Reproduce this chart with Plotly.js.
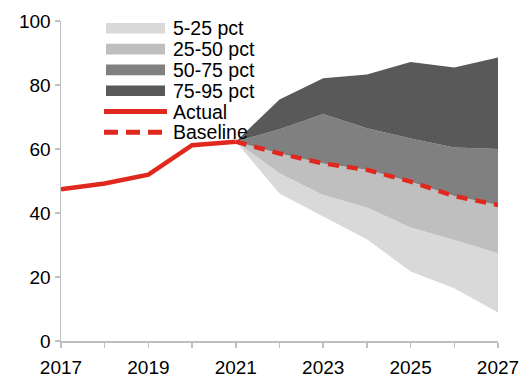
<!DOCTYPE html>
<html>
<head>
<meta charset="utf-8">
<script src="https://cdn.plot.ly/plotly-3.0.1.min.js"></script>
<style>html,body{margin:0;padding:0;background:#fff;}#chart{width:525px;height:377px;}</style>
</head>
<body>
<div id="chart"></div>
<script>
const actualYears = [2017, 2018, 2019, 2020, 2021];
const actualValues = [47.4, 49.2, 52.0, 61.2, 62.3];

const fcYears = [2021, 2022, 2023, 2024, 2025, 2026, 2027];
const p5  = [62.3, 46.1, 38.9, 31.8, 21.7, 16.5, 8.9];
const p25 = [62.3, 52.4, 45.6, 41.7, 35.5, 31.6, 27.4];
const p50 = [62.3, 58.6, 55.5, 53.5, 49.8, 45.3, 42.5];
const p75 = [62.3, 66.2, 70.9, 66.5, 63.3, 60.5, 60.0];
const p95 = [62.3, 75.5, 82.1, 83.3, 87.2, 85.5, 88.6];
const baseline = [62.3, 58.6, 55.5, 53.5, 49.8, 45.3, 42.5];

const bandNames = ['5-25 pct', '25-50 pct', '50-75 pct', '75-95 pct'];
const bandColors = ['#d9d9d9', '#bfbfbf', '#808080', '#595959'];
const lineNames = ['Actual', 'Baseline'];
const xTickVals = [2017, 2019, 2021, 2023, 2025, 2027];
const xTickText = ['2017', '2019', '2021', '2023', '2025', '2027'];
const yTickVals = [0, 20, 40, 60, 80, 100];

const red = '#e0281e';
const W = 525, H = 377;
const M = {l: 61, r: 27, t: 21, b: 36};
const tickFont = {family: 'Liberation Sans, Arial, sans-serif', size: 19, color: '#000'};
const legFont = {family: 'Liberation Sans, Arial, sans-serif', size: 19.5, color: '#000'};
const dashPattern = '11px,8px';

const bounds = [p5, p25, p50, p75, p95];
const traces = [{
  x: fcYears, y: p5, type: 'scatter', mode: 'lines',
  line: {width: 0, color: 'rgba(0,0,0,0)'}, showlegend: false, hoverinfo: 'skip'
}];
for (let i = 0; i < 4; i++) {
  traces.push({
    x: fcYears, y: bounds[i + 1], type: 'scatter', mode: 'lines',
    name: bandNames[i], fill: 'tonexty', fillcolor: bandColors[i],
    line: {width: 0, color: bandColors[i]}, showlegend: false
  });
}
traces.push({
  x: actualYears, y: actualValues, type: 'scatter', mode: 'lines', name: lineNames[0],
  line: {color: red, width: 4.5}, showlegend: false
});
traces.push({
  x: fcYears, y: baseline, type: 'scatter', mode: 'lines', name: lineNames[1],
  line: {color: red, width: 4.5, dash: dashPattern}, showlegend: false
});

// manual legend (pixel layout -> paper coords)
const pw = W - M.l - M.r, ph = H - M.t - M.b;
const px = v => (v - M.l) / pw;
const py = v => (H - M.b - v) / ph;
const shapes = [], annotations = [];
const legNames = bandNames.concat(lineNames);
legNames.forEach((name, i) => {
  const cy = 28.3 + i * 20.8;
  if (i < 4) {
    shapes.push({type: 'rect', xref: 'paper', yref: 'paper',
      x0: px(106), x1: px(165), y0: py(cy - 5.3), y1: py(cy + 5.3),
      fillcolor: bandColors[i], line: {width: 0}});
  } else {
    shapes.push({type: 'line', xref: 'paper', yref: 'paper',
      x0: px(104), x1: px(167), y0: py(cy), y1: py(cy),
      line: {color: red, width: 5, dash: i === 5 ? '14px,8px' : 'solid'}});
  }
  annotations.push({xref: 'paper', yref: 'paper', x: px(172), y: py(cy),
    xanchor: 'left', yanchor: 'middle', showarrow: false, text: name, font: legFont,
    borderpad: 0});
});

const layout = {
  width: W, height: H, margin: M,
  paper_bgcolor: '#fff', plot_bgcolor: '#fff',
  font: tickFont, showlegend: false,
  shapes: shapes, annotations: annotations,
  xaxis: {
    range: [2017, 2027], tickvals: xTickVals, ticktext: xTickText,
    showgrid: false, zeroline: false, showline: true, linecolor: '#bfbfbf', linewidth: 1.5,
    ticks: 'outside', ticklen: 5, tickcolor: '#bfbfbf', tickwidth: 1.5,
    minor: {dtick: 1, ticks: 'outside', ticklen: 5, tickcolor: '#bfbfbf', tickwidth: 1.5, showgrid: false},
    tickfont: tickFont, ticklabelstandoff: 4, fixedrange: true
  },
  yaxis: {
    range: [0, 100], tickvals: yTickVals,
    showgrid: false, zeroline: false, showline: true, linecolor: '#bfbfbf', linewidth: 1.5,
    ticks: 'outside', ticklen: 5, tickcolor: '#bfbfbf', tickwidth: 1.5,
    tickfont: tickFont, fixedrange: true
  }
};

Plotly.newPlot('chart', traces, layout, {displayModeBar: false, staticPlot: true});
</script>
</body>
</html>
